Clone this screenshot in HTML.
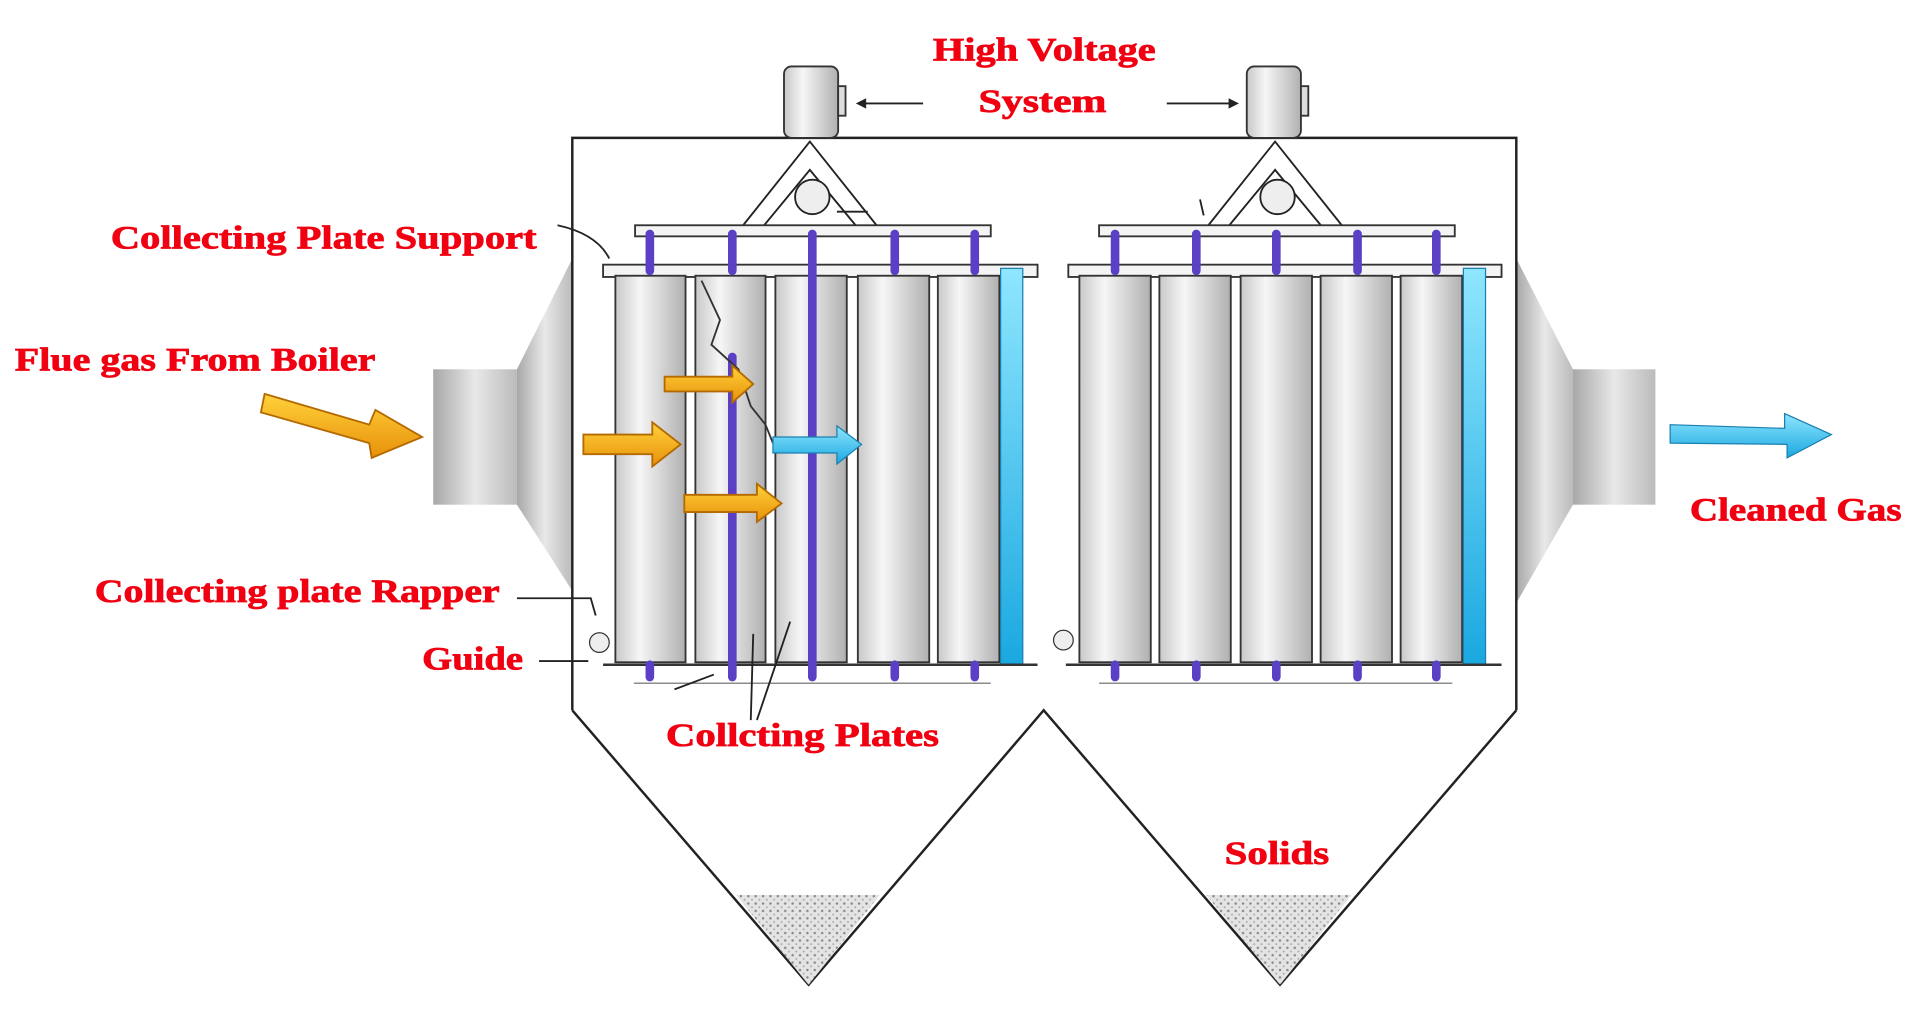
<!DOCTYPE html>
<html><head><meta charset="utf-8"><style>html,body{margin:0;padding:0;background:#fff}svg{display:block}</style></head>
<body>
<svg width="1920" height="1034" viewBox="0 0 1560 840" preserveAspectRatio="none" xmlns="http://www.w3.org/2000/svg">
<defs>
<linearGradient id="cyl" x1="0" x2="1"><stop offset="0" stop-color="#c8c8c8"/><stop offset="0.35" stop-color="#f6f6f6"/><stop offset="1" stop-color="#b0b0b0"/></linearGradient>
<linearGradient id="duct" x1="0" x2="1"><stop offset="0" stop-color="#a8a8a8"/><stop offset="0.5" stop-color="#e8e8e8"/><stop offset="1" stop-color="#bbb"/></linearGradient>
<linearGradient id="og" x1="0" y1="0" x2="0" y2="1"><stop offset="0" stop-color="#ffd23a"/><stop offset="1" stop-color="#e8900a"/></linearGradient>
<linearGradient id="bg" x1="0" y1="0" x2="0" y2="1"><stop offset="0" stop-color="#8fe6ff"/><stop offset="1" stop-color="#1aa8e0"/></linearGradient>
<pattern id="sand" width="6" height="6" patternUnits="userSpaceOnUse"><rect width="6" height="6" fill="#e4e4e4"/><circle cx="2" cy="2" r="1" fill="#888"/><circle cx="5" cy="5" r="0.8" fill="#aaa"/></pattern>
</defs>
<rect width="1560" height="840" fill="#fff"/>
<polygon points="465,210 465,480 420,410 420,300" fill="url(#duct)"/>
<rect x="352" y="300" width="68" height="110" fill="url(#duct)"/>
<polygon points="1232,210 1232,490 1278,410 1278,300" fill="url(#duct)"/>
<rect x="1278" y="300" width="67" height="110" fill="url(#duct)"/>
<polyline points="465,577 465,112 1232,112 1232,577" fill="none" stroke="#222" stroke-width="2"/>
<polyline points="465,577 657,800 848,577 1040,800 1232,577" fill="none" stroke="#222" stroke-width="2"/>
<polygon points="598,727 715,727 657,800" fill="url(#sand)"/>
<polygon points="980,727 1098,727 1040,800" fill="url(#sand)"/>
<g stroke="#333" stroke-width="1.5">
<rect x="637" y="54" width="44" height="58" rx="6" fill="url(#cyl)"/><rect x="681" y="70" width="6" height="24" fill="#ddd"/>
<rect x="1013" y="54" width="44" height="58" rx="6" fill="url(#cyl)"/><rect x="1057" y="70" width="6" height="24" fill="#ddd"/>
</g>
<g stroke="#222" stroke-width="1.5" fill="none">
<line x1="750" y1="84" x2="697" y2="84"/><polygon points="697,84 703,81 703,87" fill="#222"/>
<line x1="948" y1="84" x2="1005" y2="84"/><polygon points="1005,84 999,81 999,87" fill="#222"/>
<polygon points="658,115 603,184 713,184"/><polygon points="658,138 620,184 696,184"/>
<polygon points="1036,115 981,184 1091,184"/><polygon points="1036,138 998,184 1074,184"/>
<circle cx="660" cy="160" r="14" fill="#eee"/><circle cx="1038" cy="160" r="14" fill="#eee"/>
</g>
<g stroke="#333" stroke-width="1.5" fill="#f4f4f4">
<rect x="516" y="183" width="289" height="9"/><rect x="893" y="183" width="289" height="9"/>
<rect x="490" y="215" width="353" height="10"/><rect x="868" y="215" width="352" height="10"/>
</g>
<g stroke="#333" stroke-width="1.5" fill="url(#cyl)">
<rect x="500" y="224" width="57" height="314"/><rect x="565" y="224" width="57" height="314"/><rect x="630" y="224" width="58" height="314"/><rect x="697" y="224" width="58" height="314"/><rect x="762" y="224" width="50" height="314"/>
<rect x="877" y="224" width="58" height="314"/><rect x="942" y="224" width="58" height="314"/><rect x="1008" y="224" width="58" height="314"/><rect x="1073" y="224" width="58" height="314"/><rect x="1138" y="224" width="50" height="314"/>
</g>
<rect x="813" y="218" width="18" height="322" fill="url(#bg)" stroke="#1b7fb0"/>
<rect x="1189" y="218" width="18" height="322" fill="url(#bg)" stroke="#1b7fb0"/>
<line x1="490" y1="540" x2="843" y2="540" stroke="#333" stroke-width="2"/><line x1="866" y1="540" x2="1220" y2="540" stroke="#333" stroke-width="2"/>
<line x1="515" y1="555" x2="805" y2="555" stroke="#666"/><line x1="893" y1="555" x2="1180" y2="555" stroke="#666"/>
<g stroke="#5b3fc4" stroke-width="7" stroke-linecap="round">
<line x1="528" y1="190" x2="528" y2="220"/><line x1="595" y1="190" x2="595" y2="220"/><line x1="727" y1="190" x2="727" y2="220"/><line x1="792" y1="190" x2="792" y2="220"/>
<line x1="660" y1="190" x2="660" y2="550"/><line x1="595" y1="290" x2="595" y2="550"/>
<line x1="528" y1="540" x2="528" y2="550"/><line x1="727" y1="540" x2="727" y2="550"/><line x1="792" y1="540" x2="792" y2="550"/>
<line x1="906" y1="190" x2="906" y2="220"/><line x1="972" y1="190" x2="972" y2="220"/><line x1="1037" y1="190" x2="1037" y2="220"/><line x1="1103" y1="190" x2="1103" y2="220"/><line x1="1167" y1="190" x2="1167" y2="220"/>
<line x1="906" y1="540" x2="906" y2="550"/><line x1="972" y1="540" x2="972" y2="550"/><line x1="1037" y1="540" x2="1037" y2="550"/><line x1="1103" y1="540" x2="1103" y2="550"/><line x1="1167" y1="540" x2="1167" y2="550"/>
</g>
<polyline points="570,228 585,260 578,280 600,300 610,330 622,345 628,360" fill="none" stroke="#333" stroke-width="1.5"/>
<circle cx="487" cy="522" r="8" fill="#eee" stroke="#333"/><circle cx="864" cy="520" r="8" fill="#eee" stroke="#333"/>
<g stroke="#b46a00" stroke-width="1.5" fill="url(#og)">
<polygon points="215,320 300,345 305,333 343,355 302,372 300,360 212,335"/>
<polygon points="474,353 530,353 530,343 553,361 530,379 530,369 474,369"/>
<polygon points="540,306 595,306 595,297 612,312 595,327 595,318 540,318"/>
<polygon points="556,402 615,402 615,393 635,409 615,424 615,416 556,416"/>
</g>
<polygon points="628,355 680,355 680,346 700,361 680,377 680,368 628,368" fill="url(#bg)" stroke="#1b7fb0"/>
<polygon points="1357,345 1450,348 1450,336 1488,353 1452,372 1452,361 1357,360" fill="url(#bg)" stroke="#1b7fb0"/>
<g stroke="#222" stroke-width="1.5" fill="none">
<path d="M453,183 Q485,190 495,210"/><path d="M420,486 L480,486 L484,500"/><line x1="438" y1="537" x2="478" y2="537"/>
<line x1="548" y1="560" x2="580" y2="548"/><path d="M610,585 L612,515"/><path d="M615,585 Q630,540 642,505"/>
<line x1="705" y1="172" x2="680" y2="172"/><line x1="975" y1="162" x2="978" y2="175"/>
</g>
<g font-family="'Liberation Serif',serif" font-weight="bold" fill="#f00010" font-size="27" stroke="#f00010" stroke-width="0.6">
<text x="758" y="49" textLength="181" lengthAdjust="spacingAndGlyphs">High Voltage</text>
<text x="795" y="91" textLength="104" lengthAdjust="spacingAndGlyphs">System</text>
<text x="90" y="202" textLength="346" lengthAdjust="spacingAndGlyphs">Collecting Plate Support</text>
<text x="12" y="301" textLength="293" lengthAdjust="spacingAndGlyphs">Flue gas From Boiler</text>
<text x="77" y="489" textLength="329" lengthAdjust="spacingAndGlyphs">Collecting plate Rapper</text>
<text x="343" y="544" textLength="82" lengthAdjust="spacingAndGlyphs">Guide</text>
<text x="541" y="606" textLength="222" lengthAdjust="spacingAndGlyphs">Collcting Plates</text>
<text x="995" y="702" textLength="85" lengthAdjust="spacingAndGlyphs">Solids</text>
<text x="1373" y="423" textLength="172" lengthAdjust="spacingAndGlyphs">Cleaned Gas</text>
</g>
</svg>
</body></html>
